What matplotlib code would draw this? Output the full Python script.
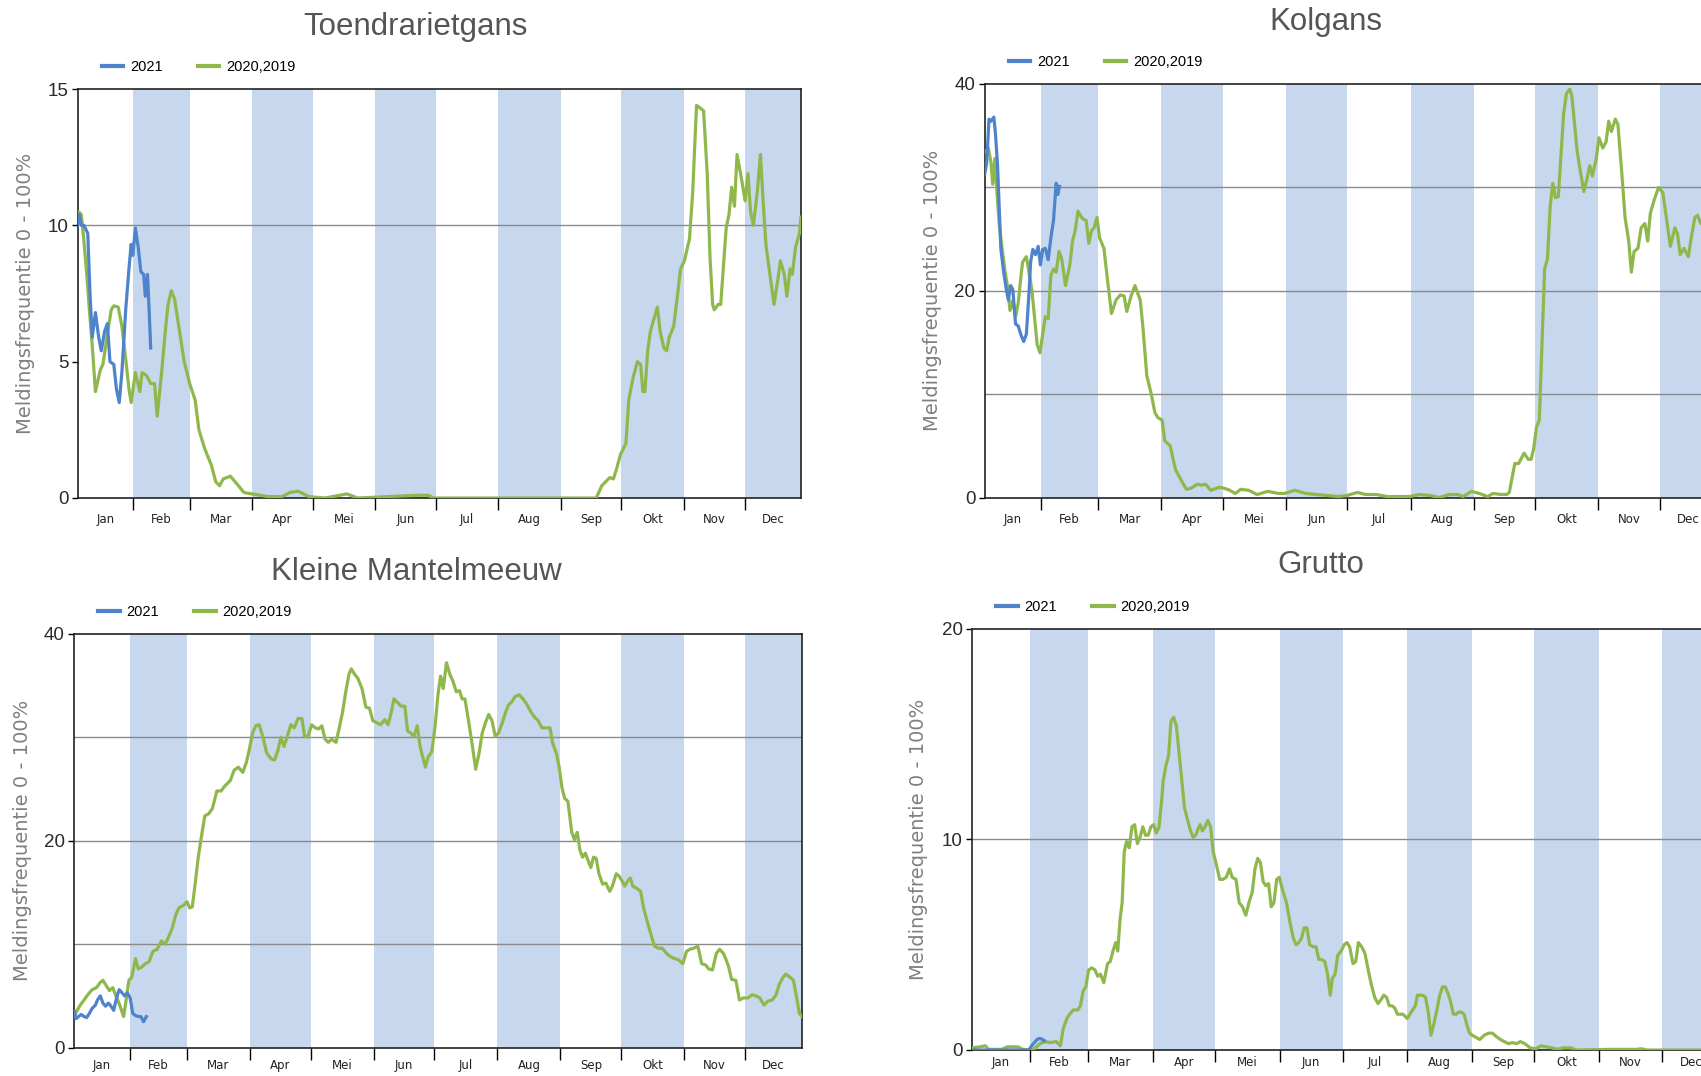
import matplotlib
matplotlib.use("Agg")
import matplotlib.pyplot as plt
from matplotlib.lines import Line2D

# ---- data (x = day of year, y = meldingsfrequentie %) ----
MONTHS = ['Jan', 'Feb', 'Mar', 'Apr', 'Mei', 'Jun', 'Jul', 'Aug', 'Sep', 'Okt', 'Nov', 'Dec']
MONTH_START = [0, 31, 59, 90, 120, 151, 181, 212, 243, 273, 304, 334, 365]
SERIES_NAMES = ['2021', '2020,2019']

toendra_2021_day = [3.3, 4.1, 5.2, 6.5, 8.4, 9.5, 10.6, 12.2, 13.8, 15.1, 16.7, 18.1, 19.4, 21.3, 22.6,
                    24.0, 25.3, 27.2, 28.8, 29.9, 30.7, 32.0, 33.4, 34.7, 36.1, 36.9, 38.0, 38.8, 39.6]
toendra_2021_val = [10.0, 10.4, 10.0, 10.0, 9.7, 7.5, 5.9, 6.8, 5.9, 5.4, 6.1, 6.4, 5.0, 4.9, 4.0,
                    3.5, 4.6, 6.9, 8.4, 9.3, 8.9, 9.9, 9.2, 8.3, 8.2, 7.4, 8.2, 6.9, 5.5]
toendra_hist_day = [3.3, 3.8, 5.2, 6.5, 7.9, 9.2, 10.6, 12.2, 14.6, 15.9, 17.3, 20.0, 21.3, 23.5, 25.3,
                    27.2, 28.8, 29.9, 32.0, 34.2, 35.3, 37.4, 39.6, 41.5, 42.8, 45.0, 46.8, 48.2, 49.8,
                    51.4, 53.5, 56.2, 58.9, 61.6, 63.5, 66.4, 69.7, 71.8, 73.7, 75.6, 79.1, 83.1, 85.8,
                    89.8, 93.9, 97.9, 104.6, 108.6, 112.7, 118.0, 126.1, 136.8, 142.2, 171.8, 177.2,
                    179.8, 257.8, 260.5, 263.2, 267.2, 269.0, 270.7, 272.5, 275.2, 276.6, 278.7, 280.9,
                    282.5, 283.6, 284.6, 286.0, 287.3, 289.2, 290.8, 292.2, 294.0, 295.4, 296.7, 298.9,
                    300.7, 302.3, 304.2, 306.7, 308.3, 310.2, 312.0, 313.7, 315.5, 316.9, 318.2, 319.0,
                    320.9, 322.2, 324.9, 326.3, 327.6, 329.0, 330.3, 332.5, 334.3, 335.7, 337.0, 338.4,
                    340.3, 341.9, 343.2, 344.6, 346.4, 348.6, 350.5, 351.8, 353.7, 355.0, 356.6, 357.7,
                    359.3, 361.2, 362.0]
toendra_hist_val = [10.3, 10.5, 10.4, 9.4, 8.2, 6.9, 5.6, 3.9, 4.7, 4.9, 5.6, 6.9, 7.05, 7.0, 6.3,
                    5.1, 4.0, 3.5, 4.6, 3.9, 4.6, 4.5, 4.2, 4.2, 3.0, 4.6, 6.1, 7.1, 7.6,
                    7.3, 6.3, 5.0, 4.2, 3.6, 2.5, 1.8, 1.2, 0.6, 0.45, 0.7, 0.8, 0.45, 0.2,
                    0.15, 0.1, 0.05, 0.05, 0.2, 0.25, 0.05, 0.0, 0.15, 0.0, 0.1, 0.1,
                    0.0, 0.0, 0.0, 0.45, 0.75, 0.7, 1.1, 1.6, 2.0, 3.6, 4.4, 5.0,
                    4.9, 3.9, 3.9, 5.4, 6.1, 6.6, 7.0, 6.1, 5.5, 5.4, 5.9, 6.3,
                    7.4, 8.4, 8.7, 9.5, 11.2, 14.4, 14.3, 14.2, 11.9, 8.8, 7.1, 6.9,
                    7.1, 7.1, 9.9, 10.4, 11.4, 10.7, 12.6, 11.7, 10.9, 11.9, 10.5, 10.0,
                    11.2, 12.6, 10.9, 9.3, 8.3, 7.1, 8.0, 8.7, 8.2, 7.4, 8.4, 8.2,
                    9.2, 9.7, 10.3]

kolgans_2021_day = [3.4, 4.4, 5.5, 6.5, 7.9, 8.7, 9.7, 10.5, 11.3, 12.7, 14.0, 15.0, 16.1, 17.2, 18.5,
                    19.8, 21.4, 22.5, 23.8, 25.1, 25.9, 27.0, 28.3, 29.6, 30.7, 31.8, 33.1, 34.5, 35.8,
                    37.1, 38.4, 39.2, 40.0]
kolgans_2021_val = [31.3, 32.4, 36.6, 36.4, 36.8, 35.1, 32.1, 28.1, 24.1, 21.8, 20.1, 19.1, 20.5, 20.1, 16.8,
                    16.6, 15.6, 15.1, 15.8, 19.8, 22.8, 24.0, 23.5, 24.3, 22.5, 24.0, 24.1, 23.0, 25.1,
                    26.8, 30.4, 29.3, 30.1]
kolgans_hist_day = [3.4, 5.2, 6.5, 7.3, 8.4, 9.2, 10.5, 11.9, 13.2, 14.5, 15.8, 17.2, 18.5, 19.8, 21.2,
                    22.0, 23.8, 25.1, 26.5, 27.8, 29.1, 30.5, 31.8, 33.1, 34.5, 35.8, 37.1, 38.4, 39.8,
                    41.1, 43.0, 45.1, 46.4, 47.7, 49.1, 51.2, 53.1, 54.4, 55.7, 57.0, 58.4, 59.7, 61.8,
                    63.7, 65.5, 67.7, 69.8, 71.7, 73.0, 75.1, 77.0, 79.6, 80.9, 82.8, 84.9, 86.8, 88.4,
                    90.3, 91.6, 94.3, 95.6, 96.9, 99.6, 102.2, 104.4, 107.6, 109.7, 111.6, 114.2, 118.2,
                    120.8, 123.5, 126.2, 128.8, 132.8, 136.8, 142.1, 147.4, 150.1, 155.4, 160.7, 166.0,
                    171.4, 176.7, 180.7, 186.0, 190.0, 195.3, 200.6, 205.9, 211.3, 216.5, 221.9, 225.9,
                    231.2, 235.2, 237.8, 241.8, 245.8, 249.8, 252.4, 256.4, 259.1, 260.4, 263.1, 265.0,
                    267.6, 269.7, 271.1, 272.4, 273.7, 275.1, 276.4, 277.7, 279.1, 280.4, 281.7, 283.0,
                    284.4, 285.7, 287.0, 288.4, 290.0, 291.0, 292.4, 293.7, 295.0, 296.9, 298.4, 299.8,
                    301.1, 303.0, 304.3, 306.2, 307.8, 309.1, 310.4, 312.3, 313.6, 315.5, 317.1, 318.9,
                    320.2, 321.5, 323.4, 325.0, 326.8, 328.2, 329.5, 331.4, 333.5, 335.6, 337.5, 339.3,
                    341.5, 342.8, 344.1, 346.0, 348.1, 349.5, 351.3, 352.6, 354.2, 358.0, 362.0]
kolgans_hist_val = [33.4, 33.8, 32.4, 30.3, 32.8, 30.1, 26.5, 24.1, 22.1, 20.5, 18.1, 19.1, 17.5, 18.8, 21.5,
                    22.8, 23.3, 21.8, 20.1, 17.5, 14.8, 14.0, 15.8, 17.5, 17.3, 21.5, 22.1, 21.8, 23.8,
                    23.1, 20.5, 22.5, 24.8, 25.8, 27.7, 27.0, 26.8, 24.6, 25.8, 26.1, 27.1, 25.1, 24.1,
                    20.8, 17.8, 19.1, 19.6, 19.5, 18.0, 19.5, 20.5, 19.1, 16.5, 11.8, 10.1, 8.2, 7.7,
                    7.5, 5.5, 5.0, 3.8, 2.7, 1.7, 0.8, 0.9, 1.3, 1.2, 1.3, 0.7, 1.0,
                    0.9, 0.7, 0.4, 0.8, 0.7, 0.3, 0.6, 0.4, 0.4, 0.7, 0.4, 0.3,
                    0.2, 0.1, 0.2, 0.5, 0.3, 0.3, 0.1, 0.1, 0.1, 0.3, 0.2, 0.0,
                    0.3, 0.3, 0.1, 0.6, 0.4, 0.1, 0.4, 0.3, 0.3, 0.5, 3.3, 3.3,
                    4.3, 3.7, 3.7, 4.8, 6.8, 7.5, 14.8, 22.1, 23.1, 28.1, 30.4, 29.0,
                    29.1, 33.1, 37.1, 39.1, 39.5, 38.9, 36.1, 33.4, 31.8, 29.6, 30.8, 32.1,
                    31.1, 32.8, 34.8, 33.8, 34.4, 36.4, 35.4, 36.6, 36.1, 31.4, 27.1, 24.8,
                    21.8, 23.8, 24.1, 26.1, 26.5, 24.8, 27.5, 28.8, 30.0, 29.5, 26.8, 24.3,
                    26.1, 25.5, 23.5, 24.1, 23.3, 25.1, 27.1, 27.3, 26.5, 26.0, 25.5]

mantel_2021_day = [3.6, 4.4, 5.7, 7.0, 8.4, 9.7, 11.0, 12.4, 14.0, 15.0, 16.4, 17.7, 19.0, 20.4, 21.7,
                   23.0, 24.4, 25.7, 27.1, 28.4, 29.7, 31.1, 32.4, 33.7, 35.1, 36.4, 37.7, 39.1]
mantel_2021_val = [3.5, 2.8, 3.0, 3.2, 3.0, 2.9, 3.3, 3.8, 4.1, 4.6, 5.0, 4.3, 4.0, 4.3, 4.0,
                   3.6, 4.8, 5.6, 5.3, 5.0, 5.3, 4.8, 3.3, 3.1, 3.0, 3.0, 2.5, 3.0]
mantel_hist_day = [3.3, 6.5, 8.4, 10.2, 12.4, 14.5, 16.4, 17.7, 19.3, 20.9, 22.5, 23.9, 25.2, 26.5, 27.9,
                   28.9, 30.5, 31.9, 33.7, 35.1, 36.9, 38.5, 40.4, 42.3, 44.4, 46.5, 48.4, 50.3, 51.9,
                   53.5, 55.1, 57.7, 59.1, 60.4, 61.7, 63.1, 64.7, 66.3, 67.9, 69.8, 71.6, 73.8, 75.9,
                   77.8, 80.4, 82.3, 84.4, 86.6, 88.4, 89.8, 91.4, 93.0, 94.6, 96.4, 98.3, 100.5, 102.3,
                   104.0, 105.3, 106.9, 108.5, 110.3, 111.9, 113.8, 115.7, 117.0, 118.6, 120.5, 122.3,
                   123.9, 125.5, 127.1, 128.7, 130.3, 132.5, 134.1, 135.7, 137.3, 138.9, 140.0, 141.6,
                   143.2, 145.3, 147.2, 149.0, 150.6, 152.5, 154.4, 156.5, 158.1, 159.7, 161.0, 162.6,
                   164.5, 166.4, 167.7, 169.3, 170.9, 172.5, 173.9, 175.2, 176.5, 177.9, 179.7, 181.3,
                   182.7, 184.0, 185.3, 186.9, 188.5, 190.1, 191.7, 193.3, 194.6, 196.0, 197.9, 199.7,
                   201.3, 202.9, 204.5, 206.1, 207.7, 209.3, 210.9, 212.5, 214.4, 216.0, 217.4, 219.0,
                   220.6, 222.7, 224.6, 226.4, 228.6, 230.4, 232.0, 233.9, 236.0, 237.9, 239.2, 241.1,
                   242.4, 243.8, 245.1, 246.7, 248.6, 249.9, 251.3, 252.6, 253.9, 255.3, 256.6, 258.0,
                   259.3, 260.6, 262.0, 263.8, 265.4, 267.3, 268.6, 270.5, 271.8, 273.4, 274.7, 276.1,
                   277.4, 278.7, 280.6, 282.5, 284.1, 285.9, 287.8, 289.4, 291.3, 293.1, 295.3, 297.1,
                   299.3, 301.1, 303.3, 305.1, 306.7, 308.6, 310.7, 312.6, 314.4, 316.1, 317.9, 319.8,
                   321.4, 323.3, 324.6, 325.9, 327.3, 329.4, 331.2, 333.1, 335.3, 337.4, 339.3, 341.2,
                   343.3, 345.2, 347.3, 349.2, 350.8, 352.7, 354.0, 356.1, 357.8, 359.4, 360.7, 362.0]
mantel_hist_val = [3.0, 4.1, 4.6, 5.1, 5.6, 5.8, 6.3, 6.5, 6.0, 5.5, 5.8, 5.1, 4.5, 3.8, 3.0,
                   4.3, 6.5, 6.8, 8.6, 7.6, 7.8, 8.1, 8.3, 9.3, 9.5, 10.3, 10.0, 10.8, 11.6,
                   12.8, 13.5, 13.8, 14.1, 13.5, 13.6, 15.8, 18.5, 20.5, 22.4, 22.6, 23.1, 24.8, 24.8,
                   25.3, 25.8, 26.8, 27.1, 26.6, 27.6, 28.8, 30.4, 31.1, 31.2, 30.1, 28.5, 27.9, 27.8,
                   28.8, 30.0, 29.1, 30.1, 31.2, 30.9, 31.8, 31.8, 30.1, 30.0, 31.2, 30.9,
                   30.8, 31.1, 29.8, 29.5, 29.8, 29.5, 30.9, 32.4, 34.4, 36.1, 36.6, 36.1,
                   35.7, 34.7, 32.9, 32.8, 31.6, 31.4, 31.2, 31.7, 31.2, 32.4, 33.7, 33.4,
                   33.0, 33.0, 30.6, 30.4, 30.1, 31.1, 29.1, 28.1, 27.1, 28.1, 28.6, 31.1,
                   34.1, 35.9, 34.7, 37.2, 36.1, 35.4, 34.4, 34.5, 33.7, 33.7, 31.4, 29.1,
                   26.9, 28.4, 30.4, 31.4, 32.2, 31.6, 30.1, 30.4, 31.4, 32.4, 33.1, 33.4,
                   33.9, 34.1, 33.7, 33.2, 32.4, 31.9, 31.6, 30.9, 30.9, 30.9, 29.4, 28.4,
                   27.1, 25.1, 24.1, 23.8, 20.8, 20.1, 20.8, 19.1, 18.4, 18.8, 18.1, 17.4,
                   18.4, 18.3, 16.8, 15.8, 15.9, 15.1, 15.6, 16.8, 16.6, 16.1, 15.6, 16.1,
                   16.4, 15.6, 15.4, 15.1, 13.4, 12.1, 10.8, 9.8, 9.6, 9.6, 9.1, 8.8,
                   8.6, 8.5, 8.1, 9.3, 9.5, 9.6, 9.8, 8.1, 8.0, 7.6, 7.5, 9.1,
                   9.5, 9.1, 8.5, 7.8, 6.6, 6.5, 4.6, 4.8, 4.8, 5.1, 5.0, 4.8,
                   4.1, 4.5, 4.6, 5.1, 6.1, 6.8, 7.1, 6.8, 6.5, 4.8, 3.3, 3.0]

grutto_2021_day = [3.3, 30.6, 31.9, 33.2, 34.5, 35.8, 37.1, 37.9]
grutto_2021_val = [0.0, 0.0, 0.2, 0.35, 0.5, 0.55, 0.5, 0.45]
grutto_hist_day = [3.3, 7.2, 9.8, 11.1, 17.6, 20.2, 25.4, 27.5, 31.9, 33.7, 35.8, 38.4, 41.0, 43.6, 45.7,
                   47.0, 48.8, 50.1, 51.9, 54.0, 55.3, 56.6, 57.9, 59.2, 60.7, 62.3, 63.6, 64.9, 66.5,
                   68.3, 69.6, 70.9, 72.2, 73.2, 74.3, 75.3, 76.3, 77.4, 78.7, 80.0, 81.3, 82.6, 83.9,
                   85.2, 86.5, 87.8, 89.1, 90.4, 91.7, 93.0, 94.3, 95.0, 96.3, 97.6, 98.7, 100.0, 101.3,
                   102.6, 103.9, 105.2, 106.5, 107.8, 109.3, 110.6, 111.7, 112.7, 113.8, 115.1, 116.4,
                   117.7, 119.0, 120.5, 122.1, 123.6, 125.2, 126.8, 128.1, 129.9, 131.4, 133.0, 134.6,
                   136.1, 137.7, 139.0, 140.3, 141.6, 142.9, 144.2, 145.5, 146.8, 148.1, 149.4, 150.7,
                   152.2, 154.1, 155.9, 157.4, 158.7, 160.0, 161.3, 162.6, 163.9, 165.2, 167.0, 168.3,
                   169.6, 170.9, 172.5, 173.8, 175.1, 176.1, 177.4, 178.7, 180.3, 181.8, 183.1, 184.4,
                   186.0, 187.3, 188.6, 190.2, 191.7, 193.3, 194.8, 196.4, 198.0, 199.5, 200.8, 202.1,
                   203.4, 204.7, 206.0, 207.3, 208.6, 209.9, 212.0, 213.3, 214.6, 215.9, 216.9, 218.2,
                   219.5, 220.8, 222.1, 223.4, 224.7, 226.0, 227.6, 228.9, 230.2, 231.5, 232.8, 234.1,
                   235.4, 236.7, 238.0, 239.3, 240.6, 241.9, 243.2, 245.0, 246.8, 248.9, 251.0, 252.8,
                   254.6, 256.7, 258.5, 260.6, 262.4, 264.5, 266.3, 268.4, 271.0, 273.6, 276.2, 278.8,
                   281.4, 284.0, 286.6, 290.5, 293.1, 308.7, 321.7, 324.3, 326.9, 352.4, 362.0]
grutto_hist_val = [0.1, 0.15, 0.2, 0.03, 0.03, 0.15, 0.15, 0.03, 0.0, 0.1, 0.3, 0.4, 0.35, 0.4, 0.2,
                   1.0, 1.5, 1.7, 1.9, 1.9, 2.1, 2.8, 3.0, 3.8, 3.9, 3.8, 3.5, 3.6, 3.2,
                   4.1, 4.2, 4.7, 5.1, 4.7, 6.2, 7.0, 9.4, 9.9, 9.6, 10.6, 10.7, 9.8, 10.1,
                   10.6, 10.2, 10.2, 10.6, 10.7, 10.3, 10.6, 11.9, 12.8, 13.5, 14.0, 15.6, 15.8, 15.4,
                   14.1, 12.8, 11.5, 11.0, 10.5, 10.1, 10.2, 10.5, 10.7, 10.4, 10.6, 10.9,
                   10.6, 9.4, 8.8, 8.1, 8.1, 8.2, 8.6, 8.2, 8.1, 7.0, 6.8, 6.4,
                   7.0, 7.5, 8.6, 9.1, 8.9, 8.0, 7.8, 7.9, 6.8, 7.0, 8.1, 8.2,
                   7.6, 7.0, 6.0, 5.3, 5.0, 5.1, 5.3, 5.8, 5.8, 5.0, 4.9, 4.9,
                   4.3, 4.3, 4.2, 3.6, 2.6, 3.4, 3.6, 4.5, 4.7, 5.0, 5.1, 4.9,
                   4.1, 4.2, 5.1, 4.9, 4.6, 3.8, 3.1, 2.5, 2.2, 2.4, 2.6, 2.5,
                   2.1, 2.1, 2.0, 1.7, 1.7, 1.7, 1.5, 1.7, 1.9, 2.1, 2.6, 2.6,
                   2.6, 2.5, 1.8, 0.7, 1.2, 1.8, 2.6, 3.0, 3.0, 2.7, 2.3, 1.7,
                   1.7, 1.8, 1.8, 1.7, 1.2, 0.8, 0.7, 0.6, 0.5, 0.7, 0.8, 0.8,
                   0.65, 0.5, 0.4, 0.3, 0.35, 0.3, 0.4, 0.3, 0.1, 0.06, 0.2, 0.15,
                   0.1, 0.03, 0.1, 0.1, 0.0, 0.03, 0.03, 0.06, 0.0, 0.0, 0.0]

# ---- style ----
W, H = 1701, 1076
BLUE = '#4f83cc'
GREEN = '#8fb84c'
SHADE = '#c7d7ed'
XMIN, XMAX = 3.3, 362.0

panels = [
    dict(title='Toendrarietgans', box=(77.5, 89, 801, 498), title_xy=(415, 27), ylab_x=26,
         ymax=15, yticks=[0, 5, 10, 15], xpad=11,
         d21=(toendra_2021_day, toendra_2021_val), dh=(toendra_hist_day, toendra_hist_val)),
    dict(title='Kolgans', box=(984.5, 84, 1716.7, 497.6), title_xy=(1326, 22), ylab_x=932,
         ymax=40, yticks=[0, 20, 40], xpad=11,
         d21=(kolgans_2021_day, kolgans_2021_val), dh=(kolgans_hist_day, kolgans_hist_val)),
    dict(title='Kleine Mantelmeeuw', box=(73.7, 633.7, 802, 1047.6), title_xy=(416, 572), ylab_x=23,
         ymax=40, yticks=[0, 20, 40], xpad=8,
         d21=(mantel_2021_day, mantel_2021_val), dh=(mantel_hist_day, mantel_hist_val)),
    dict(title='Grutto', box=(972, 628.8, 1720, 1050), title_xy=(1321, 565), ylab_x=919,
         ymax=20, yticks=[0, 10, 20], xpad=4,
         d21=(grutto_2021_day, grutto_2021_val), dh=(grutto_hist_day, grutto_hist_val)),
]

fig = plt.figure(figsize=(W / 100, H / 100), dpi=100)

for p in panels:
    x0, y0, x1, y1 = p['box']
    ax = fig.add_axes([x0 / W, 1 - y1 / H, (x1 - x0) / W, (y1 - y0) / H])

    # alternating month bands
    for i in range(1, 12, 2):
        ax.axvspan(MONTH_START[i], MONTH_START[i + 1], color=SHADE, lw=0, zorder=0)
    # horizontal lines at every 10
    for g in range(10, p['ymax'], 10):
        ax.axhline(g, color='#8a8a8a', lw=1.0, zorder=1)

    ax.plot(*p['dh'], color=GREEN, lw=2.3, zorder=3, solid_joinstyle='round')
    ax.plot(*p['d21'], color=BLUE, lw=2.3, zorder=4, solid_joinstyle='round')

    ax.set_xlim(XMIN, XMAX)
    ax.set_ylim(0, p['ymax'])

    ax.set_xticks(MONTH_START[1:12])
    ax.set_xticklabels([])
    ax.tick_params(axis='x', which='major', length=8.5, width=1.0, color='black', direction='out')
    centers = [(max(MONTH_START[i], XMIN) + min(MONTH_START[i + 1], XMAX)) / 2 for i in range(12)]
    ax.set_xticks(centers, minor=True)
    ax.set_xticklabels(MONTHS, minor=True, fontsize=8.5, family='DejaVu Sans', color='#222222')
    ax.tick_params(axis='x', which='minor', length=0, pad=p['xpad'])

    ax.set_yticks(p['yticks'])
    ax.set_yticklabels([str(t) for t in p['yticks']], fontsize=13.5,
                       family='Liberation Sans', color='#2a2a2a')
    ax.tick_params(axis='y', length=4, width=1.0, pad=2.5)

    for s in ax.spines.values():
        s.set_linewidth(1.2)
        s.set_color('#222222')

    fig.text(p['title_xy'][0] / W, 1 - p['title_xy'][1] / H, p['title'], ha='center', va='center',
             fontsize=22.5, family='Liberation Sans', color='#555555')
    fig.text(p['ylab_x'] / W, 1 - (y0 + y1) / 2 / H, 'Meldingsfrequentie 0 - 100%', rotation=90,
             ha='center', va='center', fontsize=14, family='DejaVu Sans', color='#808080')

    handles = [Line2D([], [], color=BLUE, lw=3), Line2D([], [], color=GREEN, lw=3)]
    ax.legend(handles, SERIES_NAMES, loc='center left', ncol=2, frameon=False,
              bbox_to_anchor=(24 / (x1 - x0), 1 + 22 / (y1 - y0)),
              borderpad=0, borderaxespad=0, handlelength=1.5, handletextpad=0.45,
              columnspacing=2.4, prop={'family': 'Liberation Sans', 'size': 10.5})

fig.savefig('out.png', dpi=100)
